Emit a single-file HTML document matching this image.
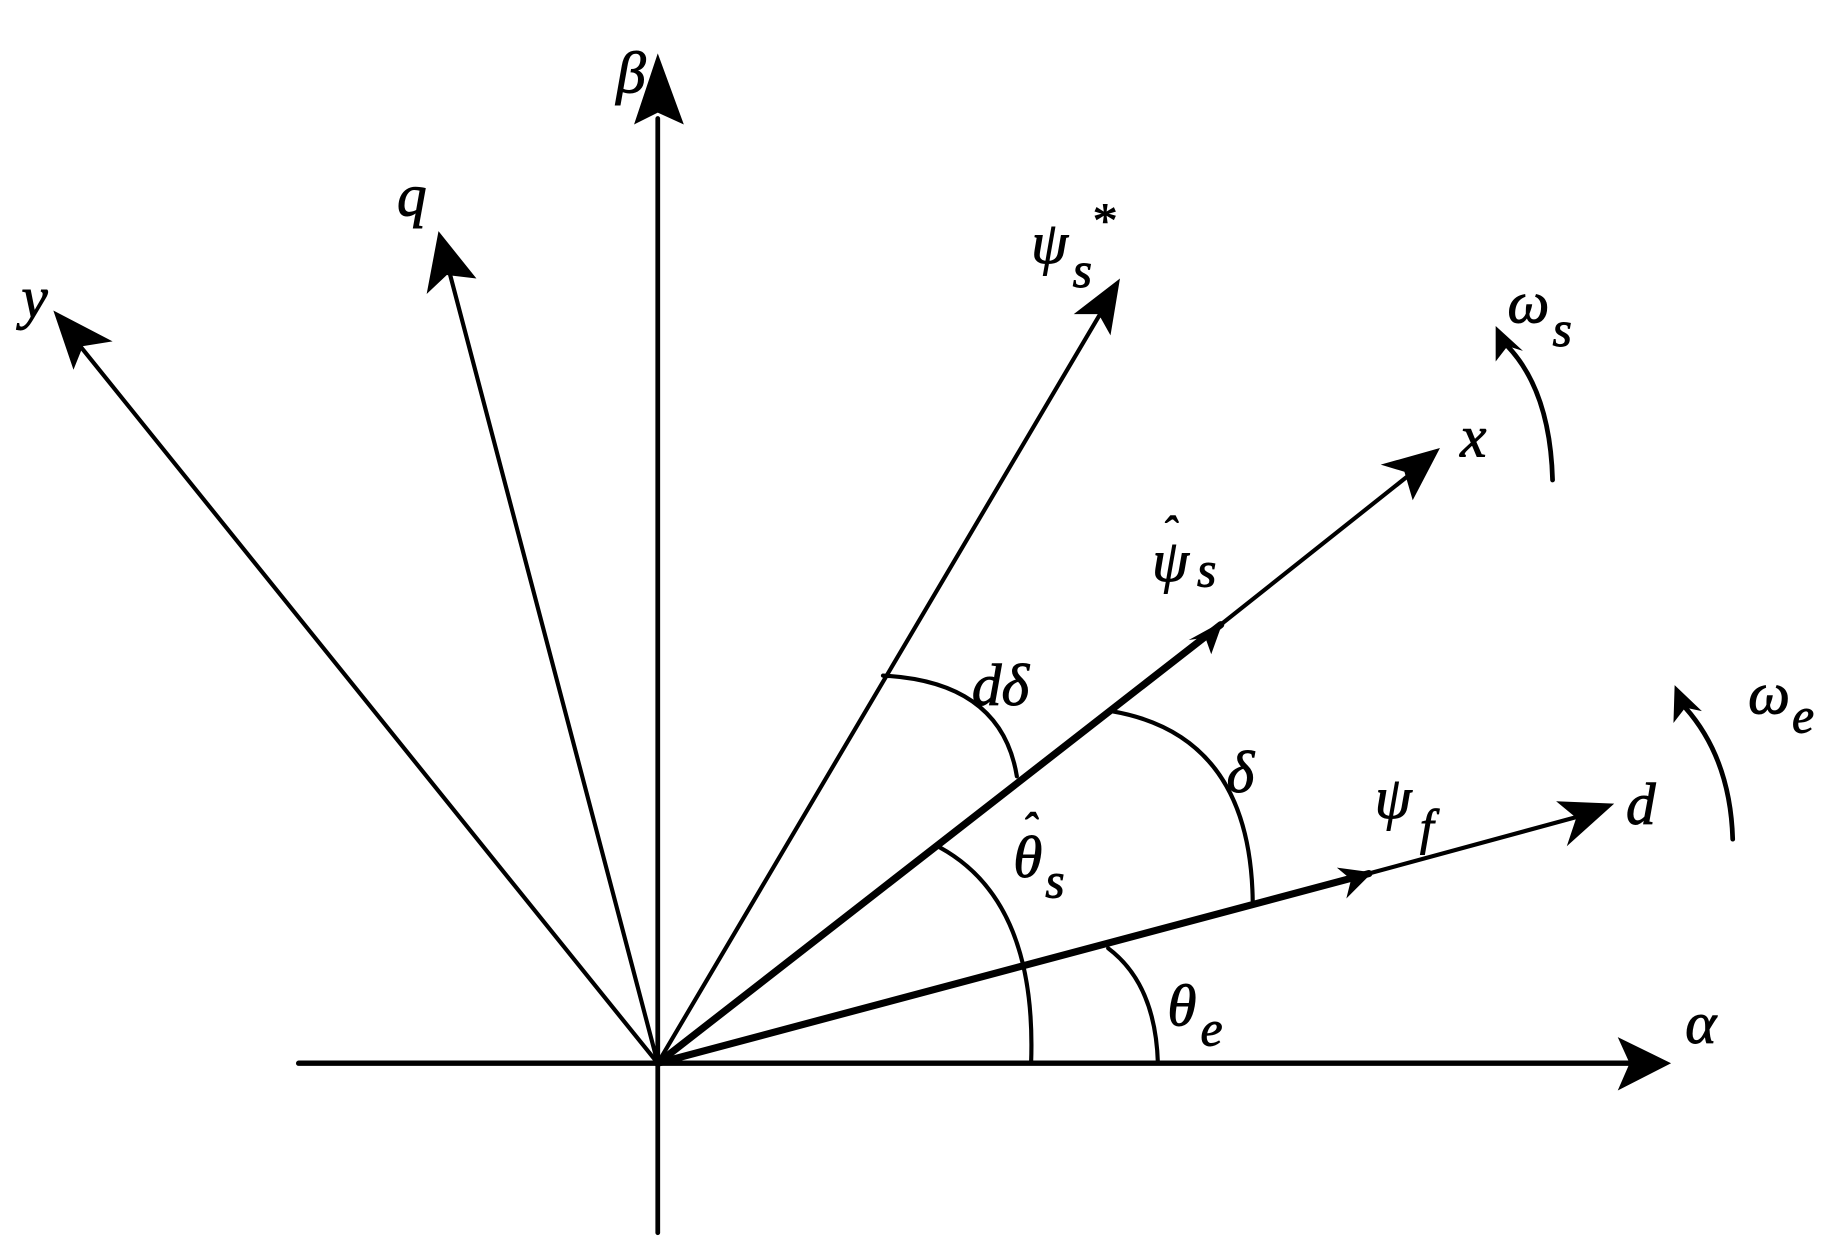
<!DOCTYPE html>
<html><head><meta charset="utf-8"><style>
html,body{margin:0;padding:0;background:#fff;}
svg{display:block;}
text{font-family:"Liberation Serif",serif;font-style:italic;fill:#000;stroke:#000;stroke-width:0.8px;}
</style></head><body>
<svg width="1837" height="1241" viewBox="0 0 1550 1047" preserveAspectRatio="none" xmlns="http://www.w3.org/2000/svg">
<g stroke="#000" fill="none" stroke-linecap="round">
<line x1="252" y1="897" x2="1380" y2="897" stroke-width="4.5"/>
<line x1="555" y1="1040" x2="555" y2="100" stroke-width="4"/>
<line x1="555" y1="897" x2="62" y2="285" stroke-width="3.5"/>
<line x1="555" y1="897" x2="378" y2="225" stroke-width="3.5"/>
<line x1="555" y1="897" x2="930" y2="262" stroke-width="3.5"/>
<line x1="555" y1="897" x2="1030" y2="527" stroke-width="6"/>
<line x1="1030" y1="527" x2="1195" y2="396" stroke-width="3.5"/>
<line x1="555" y1="897" x2="1155" y2="737" stroke-width="6"/>
<line x1="1155" y1="737" x2="1335" y2="688" stroke-width="3.5"/>
<path d="M745,570 Q845,575 858,655" stroke-width="3.5"/>
<path d="M938,600 Q1055,620 1057,760" stroke-width="3.5"/>
<path d="M793,715 Q875,760 870,897" stroke-width="3.5"/>
<path d="M935,800 Q975,830 977,897" stroke-width="3.5"/>
<path d="M1310,405 Q1308,330 1272,292" stroke-width="4"/>
<path d="M1462,708 Q1460,640 1422,597" stroke-width="4"/>
</g>
<g fill="#000">
<polygon points="1410,897 1365,875 1375,897 1365,920"/>
<polygon points="555,45 535,105 555,95 577,105"/>
<polygon points="45,262 62,312 70,292 95,288"/>
<polygon points="370,195 360,248 377,232 402,235"/>
<polygon points="945,235 906,265 927,265 937,283"/>
<polygon points="1215,378 1165,392 1185,398 1192,422"/>
<polygon points="1032,524 1003,540 1017,538 1022,552"/>
<polygon points="1362,678 1313,676 1330,690 1322,714"/>
<polygon points="1158,736 1128,732 1140,742 1136,758"/>
<polygon points="1262,275 1262,305 1272,292 1285,296"/>
<polygon points="1413,578 1412,610 1422,597 1436,600"/>
</g>
<g font-size="50">
<text x="520" y="78">β</text>
<text x="18" y="268">y</text>
<text x="335" y="182">q</text>
<text x="870" y="222">ψ</text>
<text x="905" y="242" font-size="42">s</text>
<text x="920" y="200" font-size="42" font-style="normal">*</text>
<text x="1232" y="385">x</text>
<text x="1272" y="272">ω</text>
<text x="1310" y="292" font-size="42">s</text>
<text x="972" y="490">ψ</text>
<text x="980" y="462" font-size="38" font-style="normal">ˆ</text>
<text x="1010" y="495" font-size="42">s</text>
<text x="820" y="595">dδ</text>
<text x="1035" y="668">δ</text>
<text x="1160" y="690">ψ</text>
<text x="1198" y="712" font-size="42">f</text>
<text x="1372" y="695">d</text>
<text x="1475" y="602">ω</text>
<text x="1512" y="618" font-size="42">e</text>
<text x="855" y="740">θ</text>
<text x="862" y="712" font-size="38" font-style="normal">ˆ</text>
<text x="882" y="757" font-size="42">s</text>
<text x="985" y="865">θ</text>
<text x="1013" y="882" font-size="42">e</text>
<text x="1422" y="880">α</text>
</g>
</svg>
</body></html>
